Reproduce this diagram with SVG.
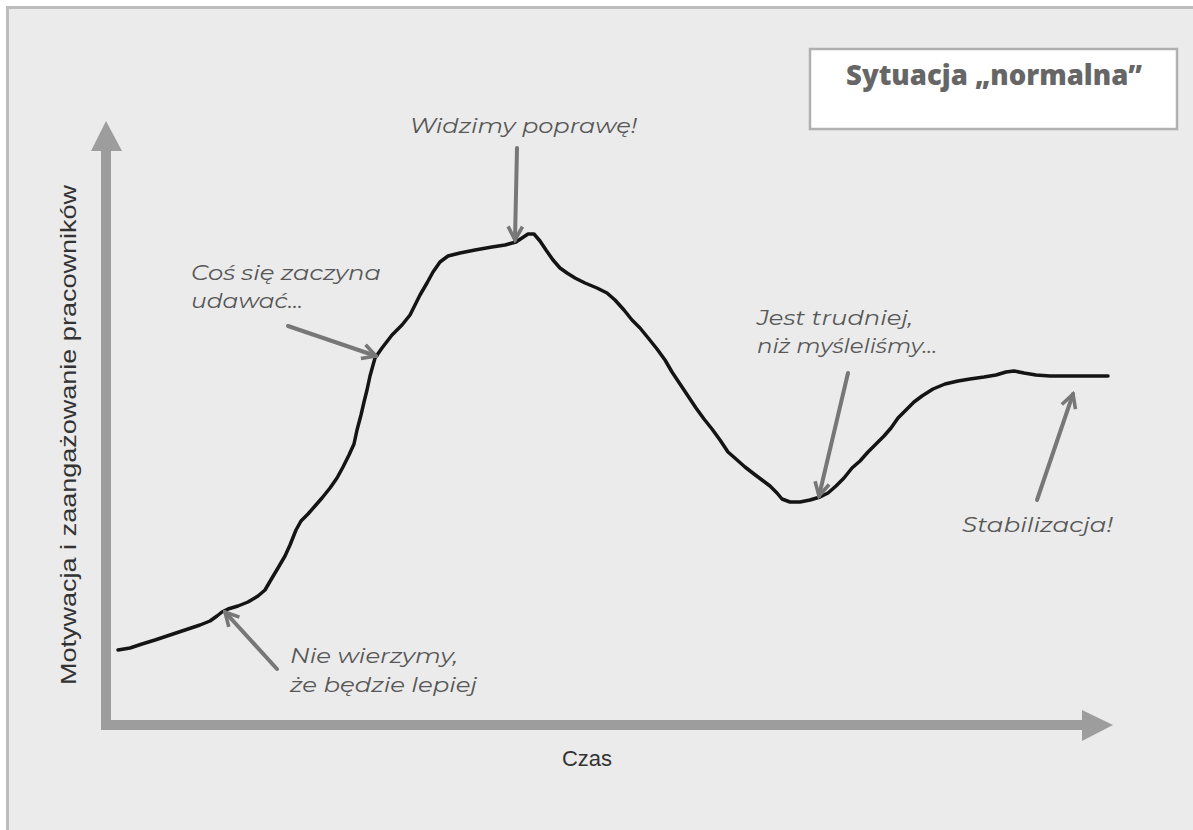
<svg xmlns="http://www.w3.org/2000/svg" width="1193" height="830" viewBox="0 0 1193 830">
<style>
.note{font-family:Montserrat,"Open Sans","Liberation Sans",sans-serif;font-style:italic;font-size:21px;fill:#575757}
.axislbl{font-family:"Liberation Sans",Arial,sans-serif;font-size:22px;fill:#333}
.title{font-family:"Open Sans","Liberation Sans",sans-serif;font-weight:800;font-size:28px;fill:#666}
.pointer{stroke:#777;stroke-width:4;fill:none;stroke-linecap:round;marker-end:url(#chev)}
.axis{stroke:#9d9d9d;stroke-width:10;fill:none}
</style>
<defs>
<marker id="chev" viewBox="0 0 10 10" refX="8.5" refY="5" markerWidth="4.5" markerHeight="4.5" orient="auto" markerUnits="strokeWidth">
<path d="M1,1 L8.5,5 L1,9" fill="none" stroke="#777" stroke-width="2" stroke-linejoin="miter"/>
</marker>
</defs>
<rect x="0" y="0" width="1193" height="830" fill="#ffffff"/>
<rect x="7.5" y="7.5" width="1200" height="840" fill="#ebebeb" stroke="#bdbdbd" stroke-width="3"/>

<g id="title">
<rect x="810" y="49" width="367" height="80" fill="#ffffff" stroke="#b0b0b0" stroke-width="2.5"/>
<text class="title" x="994" y="85" text-anchor="middle" textLength="296" lengthAdjust="spacingAndGlyphs">Sytuacja „normalna”</text>
</g>

<g id="axes">
<path class="axis" d="M106,725 V148"/>
<polygon points="106,121 91,151 122,151" fill="#9d9d9d"/>
<path class="axis" d="M101,725 H1085"/>
<polygon points="1113,725 1082,710 1082,741" fill="#9d9d9d"/>
<text class="axislbl" x="0" y="0" transform="translate(76,435) rotate(-90)" text-anchor="middle" textLength="500" lengthAdjust="spacingAndGlyphs">Motywacja i zaangażowanie pracowników</text>
<text class="axislbl" x="587" y="766" text-anchor="middle">Czas</text>
</g>

<g id="curve">
<path d="M118,650 L130,648 L142,644 L155,640 L170,635 L185,630 L200,625 L210,621 L217,616 L222,612 L228,609 L238,606 L248,602 L258,596 L265,590 L272,578 L278,568 L285,556 L290,545 L296,530 L301,521 L308,514 L315,506 L322,498 L330,488 L337,478 L343,467 L349,455 L354,444 L357,430 L361,415 L364,402 L367,390 L370,376 L375,358 L382,348 L392,335 L402,325 L410,315 L415,305 L420,295 L427,283 L433,272 L440,262 L448,256 L460,253 L475,250 L492,247 L505,245 L516,242 L522,238 L528,234 L534,234 L540,241 L546,250 L553,260 L560,268 L567,273 L575,278 L585,283 L597,288 L607,293 L615,300 L624,310 L632,320 L640,328 L649,339 L657,349 L665,360 L672,372 L680,384 L688,396 L696,408 L704,419 L712,429 L720,440 L728,452 L736,459 L745,467 L754,474 L762,480 L770,486 L777,493 L782,499 L790,502 L800,502 L810,500 L820,497 L828,493 L836,486 L844,478 L852,468 L860,461 L868,452 L876,444 L884,436 L891,428 L898,418 L906,410 L914,402 L922,396 L933,389 L945,384 L958,381 L970,379 L984,377 L996,375 L1006,372 L1014,371 L1024,373 L1036,375 L1050,376 L1070,376 L1090,376 L1108,376" fill="none" stroke="#141414" stroke-width="3.5" stroke-linejoin="round" stroke-linecap="round"/>
</g>

<g id="connectors">
<line class="pointer" x1="517" y1="148" x2="515" y2="240"/>
<line class="pointer" x1="288" y1="326" x2="376" y2="356"/>
<line class="pointer" x1="848" y1="373" x2="819" y2="496"/>
<line class="pointer" x1="1037" y1="500" x2="1073" y2="394"/>
<line class="pointer" x1="277" y1="669" x2="225" y2="612"/>
</g>

<g id="note-widzimy"><text class="note" x="410" y="133" textLength="227" lengthAdjust="spacingAndGlyphs">Widzimy poprawę!</text></g>
<g id="note-cos"><text class="note" x="191" y="280" textLength="190" lengthAdjust="spacingAndGlyphs">Coś się zaczyna</text><text class="note" x="191" y="308" textLength="112" lengthAdjust="spacingAndGlyphs">udawać...</text></g>
<g id="note-jest"><text class="note" x="757" y="325" textLength="156" lengthAdjust="spacingAndGlyphs">Jest trudniej,</text><text class="note" x="757" y="353" textLength="180" lengthAdjust="spacingAndGlyphs">niż myśleliśmy...</text></g>
<g id="note-stab"><text class="note" x="962" y="532" textLength="151" lengthAdjust="spacingAndGlyphs">Stabilizacja!</text></g>
<g id="note-nie"><text class="note" x="290" y="663" textLength="168" lengthAdjust="spacingAndGlyphs">Nie wierzymy,</text><text class="note" x="290" y="692" textLength="187" lengthAdjust="spacingAndGlyphs">że będzie lepiej</text></g>
</svg>
